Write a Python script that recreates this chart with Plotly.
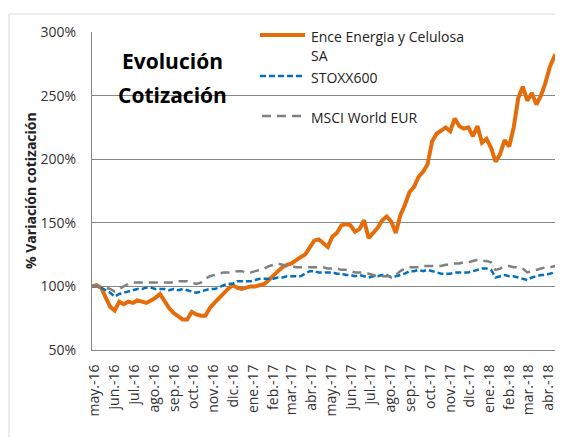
import plotly.graph_objects as go
import pandas as pd

# ---- data (weekly readings, % of start value) ----
dates = pd.date_range("2016-05-16", periods=104, freq="7D")

ence = [100, 101, 99, 91, 84, 81, 88, 86, 88, 87,
        89, 88, 87, 89, 91, 94, 88, 83, 79, 76,
        74, 74, 80, 78, 77, 77, 83, 87, 91, 95,
        98, 101, 99, 98, 99, 100, 100, 101, 102, 105,
        109, 112, 115, 117, 118, 121, 123, 125, 130, 136,
        137, 134, 131, 139, 142, 148, 149, 148, 143, 145,
        152, 138, 142, 146, 152, 155, 151, 142, 156, 164,
        174, 178, 186, 190, 196, 214, 220, 223, 225, 222,
        232, 226, 224, 225, 218, 226, 213, 216, 209, 198,
        204, 215, 210, 225, 248, 257, 246, 252, 243, 250,
        260, 273, 281, 279]

stoxx = [100, 100, 99, 97, 95, 92, 94, 95, 96, 97,
         98, 98, 99, 99, 98, 98, 98, 97, 98, 97,
         98, 97, 96, 95, 96, 97, 98, 98, 99, 101,
         102, 102, 104, 104, 104, 104, 105, 106, 106, 106,
         106, 107, 107, 108, 108, 108, 108, 110, 112, 112,
         111, 111, 111, 111, 110, 110, 109, 109, 108, 109,
         108, 107, 108, 108, 109, 109, 107, 108, 109, 110,
         112, 112, 113, 112, 113, 112, 111, 110, 110, 110,
         111, 111, 111, 111, 112, 113, 114, 114, 113, 107,
         108, 109, 108, 108, 107, 106, 105, 107, 108, 109,
         109, 110, 111, 110]

msci = [100, 100, 99, 99, 98, 96, 98, 100, 102, 103,
        103, 103, 103, 103, 103, 103, 103, 103, 103, 104,
        104, 104, 103, 102, 103, 106, 108, 109, 110, 111,
        111, 111, 112, 112, 111, 111, 112, 113, 114, 116,
        117, 118, 117, 116, 116, 115, 115, 115, 115, 115,
        115, 115, 114, 114, 114, 113, 113, 112, 111, 111,
        111, 110, 109, 108, 108, 108, 108, 109, 112, 114,
        115, 115, 115, 116, 116, 116, 116, 116, 117, 117,
        118, 118, 119, 119, 120, 121, 120, 120, 119, 113,
        114, 116, 116, 115, 115, 114, 111, 112, 113, 114,
        115, 115, 116, 115]

tick_dates = pd.date_range("2016-05-20", periods=24, freq=pd.DateOffset(months=1))
tick_labels = ["may.-16", "jun.-16", "jul.-16", "ago.-16", "sep.-16", "oct.-16",
               "nov.-16", "dic.-16", "ene.-17", "feb.-17", "mar.-17", "abr.-17",
               "may.-17", "jun.-17", "jul.-17", "ago.-17", "sep.-17", "oct.-17",
               "nov.-17", "dic.-17", "ene.-18", "feb.-18", "mar.-18", "abr.-18"]

y_ticks = [50, 100, 150, 200, 250, 300]
y_tick_labels = ["50%", "100%", "150%", "200%", "250%", "300%"]

names = ["Ence Energia y Celulosa SA", "STOXX600", "MSCI World EUR"]
colors = ["#E46C0A", "#0070C0", "#808080"]

FONT = "Open Sans"
# page body has an 8px margin, so the figure is sized to fit the window
W, H = 555, 429
ML, MR, MT, MB = 84, 2, 24, 87
PW, PH = W - ML - MR, H - MT - MB   # 469 x 318
OFF = 8                               # window offset of the figure


def px(x):
    return (x - OFF - ML) / PW


def py(y):
    return (H - MB - (y - OFF)) / PH


fig = go.Figure()
fig.add_trace(go.Scatter(x=dates, y=ence, mode="lines", name=names[0],
                         line=dict(color=colors[0], width=4)))
fig.add_trace(go.Scatter(x=dates, y=stoxx, mode="lines", name=names[1],
                         line=dict(color=colors[1], width=2.5, dash="6px,3px")))
fig.add_trace(go.Scatter(x=dates, y=msci, mode="lines", name=names[2],
                         line=dict(color=colors[2], width=2.5, dash="9px,6px")))

shapes = [
    # outer chart border (top and left)
    dict(type="line", xref="paper", yref="paper", x0=px(9), x1=px(575), y0=py(14), y1=py(14),
         line=dict(color="#D9D9D9", width=1)),
    dict(type="line", xref="paper", yref="paper", x0=px(9), x1=px(9), y0=py(14), y1=py(460),
         line=dict(color="#D9D9D9", width=1)),
    # legend samples
    dict(type="line", xref="paper", yref="paper", x0=px(260), x1=px(305), y0=py(35), y1=py(35),
         line=dict(color=colors[0], width=4)),
    dict(type="line", xref="paper", yref="paper", x0=px(260), x1=px(305), y0=py(76), y1=py(76),
         line=dict(color=colors[1], width=2.5, dash="6px,3px")),
    dict(type="line", xref="paper", yref="paper", x0=px(262), x1=px(305), y0=py(116), y1=py(116),
         line=dict(color=colors[2], width=2.5, dash="9px,6px")),
]

annotations = [
    dict(text="Evolución", xref="paper", yref="paper", x=px(172), y=py(61),
         xanchor="center", yanchor="middle", showarrow=False,
         font=dict(family=FONT, size=21, color="#000000", weight="bold")),
    dict(text="Cotización", xref="paper", yref="paper", x=px(172), y=py(95),
         xanchor="center", yanchor="middle", showarrow=False,
         font=dict(family=FONT, size=21, color="#000000", weight="bold")),
    dict(text="Ence Energia y Celulosa", xref="paper", yref="paper", x=px(309), y=py(36),
         xanchor="left", yanchor="middle", showarrow=False,
         font=dict(family=FONT, size=14, color="#222222")),
    dict(text="SA", xref="paper", yref="paper", x=px(309), y=py(56),
         xanchor="left", yanchor="middle", showarrow=False,
         font=dict(family=FONT, size=14, color="#222222")),
    dict(text=names[1], xref="paper", yref="paper", x=px(309), y=py(77),
         xanchor="left", yanchor="middle", showarrow=False,
         font=dict(family=FONT, size=14, color="#222222")),
    dict(text=names[2], xref="paper", yref="paper", x=px(309), y=py(117),
         xanchor="left", yanchor="middle", showarrow=False,
         font=dict(family=FONT, size=14, color="#222222")),
    dict(text="% Variación cotización", xref="paper", yref="paper", x=px(30), y=py(191),
         xanchor="center", yanchor="middle", showarrow=False, textangle=-90,
         font=dict(family=FONT, size=14, color="#222222", weight="bold")),
]

fig.update_layout(
    width=W, height=H,
    margin=dict(l=ML, r=MR, t=MT, b=MB),
    paper_bgcolor="white", plot_bgcolor="white",
    showlegend=False,
    shapes=shapes,
    annotations=annotations,
    font=dict(family=FONT, size=14, color="#333333"),
)

fig.update_xaxes(
    type="date",
    range=["2016-05-16", "2018-05-10"],
    tickvals=tick_dates, ticktext=tick_labels, tickangle=-90,
    ticks="outside", ticklen=8, tickcolor="rgba(0,0,0,0)",
    showgrid=False, showline=True, linecolor="#868686", linewidth=1,
    tickfont=dict(family=FONT, size=14, color="#333333"),
    zeroline=False,
)

fig.update_yaxes(
    range=[50, 300],
    tickvals=y_ticks, ticktext=y_tick_labels,
    ticks="outside", ticklen=12, tickcolor="rgba(0,0,0,0)",
    showgrid=True, gridcolor="#868686", gridwidth=1,
    showline=True, linecolor="#868686", linewidth=1,
    tickfont=dict(family=FONT, size=14, color="#333333"),
    zeroline=False,
)

fig.write_html("out.html")
